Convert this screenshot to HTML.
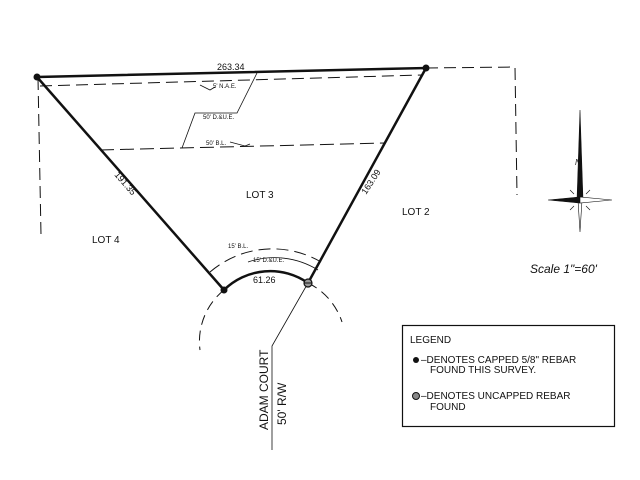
<!DOCTYPE html>
<html><head><meta charset="utf-8"><style>
html,body{margin:0;padding:0;background:#fff}
svg{display:block}
text{font-family:"Liberation Sans",sans-serif;fill:#111}
</style></head><body>
<svg width="640" height="480" viewBox="0 0 640 480" xmlns="http://www.w3.org/2000/svg">
<g fill="none" stroke="#111">
<polyline points="426,68 515,67 517,195" stroke-width="1" stroke-dasharray="12,6"/>
<line x1="38" y1="78" x2="41" y2="235" stroke-width="1" stroke-dasharray="12,6"/>
<line x1="40" y1="86" x2="422" y2="75" stroke-width="1" stroke-dasharray="12,6"/>
<line x1="100" y1="150" x2="384" y2="143" stroke-width="1" stroke-dasharray="14,6"/>
<polyline points="200,85 210,90 215,87" stroke-width="0.8"/>
<polyline points="257,73 237,113 195,113 182,148" stroke-width="0.8"/>
<polyline points="230,142 245,146 250,144" stroke-width="0.8"/>
<polyline points="37,77 426,68 308,283" stroke-width="2.5"/>
<line x1="37" y1="77" x2="224" y2="290" stroke-width="2.5"/>
<path d="M224,290 A66,66 0 0 1 308,283" stroke-width="2.5"/>
<path d="M224,290 A66,66 0 0 0 200,350" stroke-width="1" stroke-dasharray="10,6"/>
<path d="M308,283 A66,66 0 0 1 342,322" stroke-width="1" stroke-dasharray="10,6"/>
<path d="M210,272 A96,96 0 0 1 321,262" stroke-width="1" stroke-dasharray="12,6"/>
<path d="M248,262 A83,83 0 0 1 318,270" stroke-width="0.8"/>
<polyline points="308,283 272,346 272,450" stroke-width="0.8"/>
<rect x="402.5" y="325.5" width="212" height="101" stroke-width="1.2"/>
</g>
<circle cx="37" cy="77" r="3.5" fill="#111"/>
<circle cx="426" cy="68" r="3.5" fill="#111"/>
<circle cx="224" cy="290" r="3.5" fill="#111"/>
<circle cx="308" cy="283" r="4" fill="#999" stroke="#111" stroke-width="1.2"/>
<line x1="304" y1="283" x2="312" y2="283" stroke="#111"/>
<text x="217" y="70" font-size="9">263.34</text>
<text x="213" y="88" font-size="6">5' N.A.E.</text>
<text x="203" y="119" font-size="6">50' D.&amp;U.E.</text>
<text x="206" y="145" font-size="6">50' B.L.</text>
<text x="228" y="248" font-size="6">15' B.L.</text>
<text x="253" y="262" font-size="6">15' D.&amp;U.E.</text>
<text x="253" y="283" font-size="9">61.26</text>
<text x="246" y="198" font-size="10">LOT 3</text>
<text x="402" y="215" font-size="10">LOT 2</text>
<text x="92" y="243" font-size="10">LOT 4</text>
<text transform="translate(114,175) rotate(49)" font-size="9">191.35</text>
<text transform="translate(366,195) rotate(-57)" font-size="9">163.09</text>
<text transform="translate(268,430) rotate(-90)" font-size="12">ADAM COURT</text>
<text transform="translate(286,425) rotate(-90)" font-size="12">50' R/W</text>
<text x="530" y="273" font-size="12" font-style="italic">Scale  1"=60'</text>
<g fill="#111" stroke="#111" stroke-width="0.6">
<polygon points="580,110 583,200 577,200"/>
<polygon points="578,200 582,200 580,232" fill="#fff"/>
<polygon points="548,200 580,197 580,203"/>
<polygon points="612,200 580,197 580,203" fill="#fff"/>
<line x1="570" y1="190" x2="574" y2="194"/><line x1="590" y1="190" x2="586" y2="194"/>
<line x1="570" y1="210" x2="574" y2="206"/><line x1="590" y1="210" x2="586" y2="206"/>
</g>
<text x="575" y="165" font-size="8" font-style="italic">N</text>
<text x="410" y="343" font-size="10">LEGEND</text>
<circle cx="416" cy="360" r="3" fill="#111"/>
<text x="421" y="363" font-size="10">–DENOTES CAPPED 5/8" REBAR</text>
<text x="430" y="373" font-size="10">FOUND THIS SURVEY.</text>
<circle cx="416" cy="396" r="3.5" fill="#888" stroke="#111"/>
<text x="421" y="399" font-size="10">–DENOTES UNCAPPED REBAR</text>
<text x="430" y="410" font-size="10">FOUND</text>
</svg>
</body></html>
